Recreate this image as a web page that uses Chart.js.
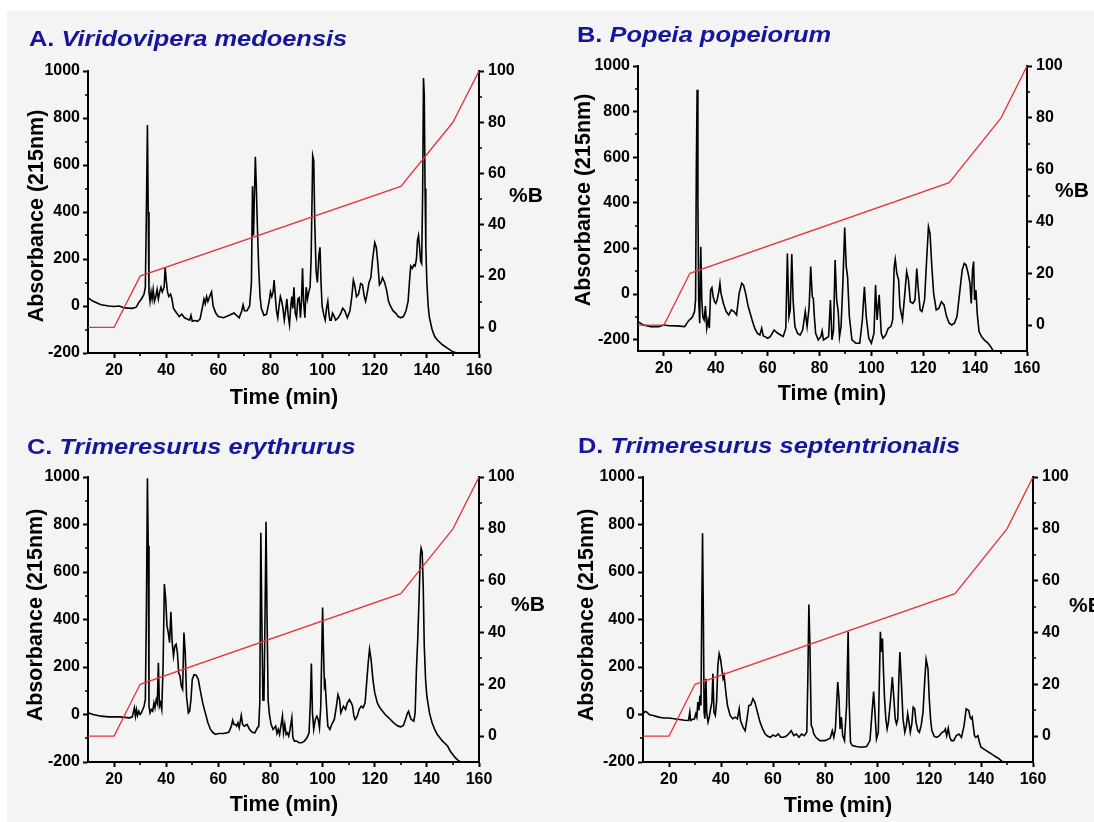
<!DOCTYPE html>
<html>
<head>
<meta charset="utf-8">
<script src="https://cdn.jsdelivr.net/npm/chart.js@4.4.1/dist/chart.umd.min.js"></script>
<style>
  html, body { margin:0; padding:0; background:#fff; }
  body { width:1094px; height:822px; overflow:hidden; position:relative; font-family:'Liberation Sans', Arial, sans-serif; }
  #bg { position:absolute; left:7px; top:11px; width:1087px; height:811px; background:#f4f4f4; }
  canvas { position:absolute; }
  .t { position:absolute; white-space:nowrap; color:#000; font-weight:bold; }
  .title { font-size:22px; line-height:22px; color:#16169a; transform-origin:0 50%; transform:translateY(-50%) scaleX(1.155); }
  .title i { font-style:italic; }
  .ytitle { font-size:21.5px; line-height:22px; transform:translate(-50%,-50%) rotate(-90deg); }
  .xtitle { font-size:21.5px; line-height:22px; transform:translate(-50%,-50%); }
  .btitle { font-size:21px; line-height:22px; transform:translate(-50%,-50%); }
</style>
</head>
<body>
<div id="bg"></div>
<canvas id="cA" width="547" height="411" style="left:0;top:0"></canvas>
<canvas id="cB" width="547" height="411" style="left:547px;top:0"></canvas>
<canvas id="cC" width="547" height="411" style="left:0;top:411px"></canvas>
<canvas id="cD" width="547" height="411" style="left:547px;top:411px"></canvas>

<div class="t title" style="left:29px;top:39px">A. <i>Viridovipera medoensis</i></div>
<div class="t title" style="left:577px;top:35px">B. <i>Popeia popeiorum</i></div>
<div class="t title" style="left:27px;top:447px">C. <i>Trimeresurus erythrurus</i></div>
<div class="t title" style="left:578px;top:446px">D. <i>Trimeresurus septentrionalis</i></div>

<div class="t ytitle" style="left:36px;top:216px">Absorbance (215nm)</div>
<div class="t ytitle" style="left:583px;top:200px">Absorbance (215nm)</div>
<div class="t ytitle" style="left:35px;top:615px">Absorbance (215nm)</div>
<div class="t ytitle" style="left:586px;top:615px">Absorbance (215nm)</div>

<div class="t xtitle" style="left:284px;top:397px">Time (min)</div>
<div class="t xtitle" style="left:832px;top:393px">Time (min)</div>
<div class="t xtitle" style="left:284px;top:804px">Time (min)</div>
<div class="t xtitle" style="left:838px;top:805px">Time (min)</div>

<div class="t btitle" style="left:526px;top:195px">%B</div>
<div class="t btitle" style="left:1072px;top:190px">%B</div>
<div class="t btitle" style="left:528px;top:604px">%B</div>
<div class="t btitle" style="left:1086px;top:605px">%B</div>

<script>
// ---- tick values ----
const xTicks = [20, 40, 60, 80, 100, 120, 140, 160];
const xMinor = [30, 50, 70, 90, 110, 130, 150];
const yTicks = [-200, 0, 200, 400, 600, 800, 1000];
const yMinor = [-100, 100, 300, 500, 700, 900];
const y2Ticks = [0, 20, 40, 60, 80, 100];
const y2Minor = [10, 30, 50, 70, 90];

// ---- gradient (%B) ----
const gradTime = [10, 20, 30, 130, 150, 160];
const gradB = [0, 0, 20, 55, 80, 100];

// ---- A. Viridovipera medoensis ----
const aTime = [10,12,15,18,20,22,24,27,28.5,29.5,30.5,31.5,32,32.4,32.8,33.1,33.4,33.8,34.2,34.6,35,35.5,36,36.5,37,37.5,38,38.5,39.2,39.6,40,40.5,41,41.7,42.2,42.8,44,45,46,47,48,49,49.5,50,51,52,53,54,54.5,55,55.5,56,57,57.4,58,59,60,62,64,66,67,68,69,69.5,70,71,72,72.7,73.1,73.5,73.9,74.2,74.6,75,75.5,76,76.5,77.5,78.5,79.5,80,80.5,81,81.4,81.8,82.3,82.8,83.3,83.8,84.3,84.8,85.3,85.8,86.3,86.8,87.3,87.8,88.2,88.6,89,89.5,90,90.5,91,91.5,91.9,92.3,92.7,93.2,93.7,94.2,94.7,95.2,95.6,96.2,96.6,97,97.5,98,98.6,99,99.4,99.8,100.5,101,101.5,102,102.4,102.8,103.3,103.8,104.3,105,106,107,107.7,108.5,109.5,110.5,111.2,111.8,112.3,113,113.8,114.6,115.3,116,116.5,117.2,117.8,118.5,119.2,120,120.6,121.2,121.8,122.4,123,123.8,124.5,125.3,126,127,128,129,130,131,132,132.8,133.3,133.8,134.4,135,135.5,136,136.4,136.8,137.2,137.6,138,138.4,138.7,139,139.3,139.6,140,140.5,141,142,143,144,146,148,150,151.5];
const aAbs  = [35,20,5,0,-2,0,-8,-10,-5,15,30,50,80,400,770,400,60,20,60,30,70,20,40,70,30,60,80,60,80,165,110,60,40,50,30,-10,-30,-45,-35,-50,-55,-60,-40,-65,-62,-65,-55,0,30,10,40,20,50,60,0,-30,-45,-50,-40,-30,-40,-50,-20,5,-20,-20,0,100,510,300,500,635,500,330,160,40,-10,-40,-35,20,60,40,60,110,50,-20,-50,0,40,20,-10,-60,-20,30,-40,-80,0,40,-10,80,-30,-50,30,35,-50,20,160,20,-50,80,30,60,80,200,640,620,350,150,100,220,250,100,0,-40,-60,-10,20,-30,-60,-60,-30,-40,-60,-50,-30,-10,-20,-50,-20,40,110,90,40,50,95,90,40,20,60,100,120,200,270,250,180,90,100,120,100,70,20,0,-20,-30,-45,-50,-45,-20,20,100,170,160,175,170,200,280,300,250,190,180,500,970,900,500,250,100,0,-50,-100,-130,-145,-165,-180,-195,-200];

// ---- B. Popeia popeiorum ----
const bTime = [10,12,15,18,20,22,25,28,29.5,30.5,31,31.8,32.2,32.5,32.8,33.1,33.4,33.8,34.2,34.6,35,35.5,36,36.5,37,37.5,38,38.5,39,39.5,40,40.5,41.2,41.6,42,43,44,45,46,47,48,49,50,50.7,51.5,52.5,54,55,56,57,57.7,58.3,59,60,61,62.5,63.5,65,66,67,67.6,68.2,68.7,69.3,69.8,70.5,71.5,72.5,73.5,74.5,75.2,76,76.6,77.2,77.6,78,78.5,79.5,80.5,81,81.5,82.5,83.5,84.2,84.8,85.4,86,86.6,87.2,87.7,88.3,89,89.7,90.3,90.8,91.5,92.5,94,95.5,96.5,97.3,98,99,100,101,101.6,102.2,103,103.8,104.5,105.5,106.5,107.5,108.2,108.8,109.2,109.8,110.5,111,112,113,113.6,114.3,115,116,116.8,117.5,118,118.8,119.5,120.5,121.3,122,122.6,123.3,124,125,126,127,128,129,130,131,132,133,134,135,135.8,136.5,137.3,138,138.5,139,139.4,139.8,140.3,140.8,141.5,142.5,143.5,145,146,147];
const bAbs  = [-121,-136,-143,-143,-136,-139,-140,-143,-117,-107,-100,-77,-26,558,896,412,-26,-128,207,-26,-100,-114,-53,-150,-114,-150,17,28,-12,-34,-41,-26,13,47,3,-44,-77,-92,-70,-77,-92,3,47,39,3,-55,-114,-150,-172,-180,-150,-184,-187,-194,-187,-158,-169,-180,-187,-150,178,-99,-70,175,-26,-143,-172,-180,-158,-77,-143,-55,120,-12,-19,-99,-172,-201,-187,-162,-201,-194,-187,-26,-201,-158,149,-26,-77,-187,-143,47,292,120,76,-99,-201,-216,-216,-114,32,-99,-194,-216,-172,39,-114,-4,-172,-194,-180,-150,-143,-114,120,152,91,61,-55,-114,17,98,61,-34,-41,-26,112,32,-70,-77,-26,149,295,266,120,3,-70,-63,-34,-48,-99,-128,-136,-128,-99,3,105,134,127,91,47,-41,105,142,-26,17,-85,-165,-187,-201,-216,-231,-250];

// ---- C. Trimeresurus erythrurus ----
const cTime = [10,12,15,18,22,26,27,27.8,28.2,28.6,29,29.5,30,30.5,31,31.5,32,32.4,32.8,33.1,33.4,33.8,34.3,34.8,35.3,35.7,36.2,36.6,37,37.4,37.8,38.3,38.8,39.3,39.8,40.3,40.8,41.3,41.8,42.3,42.8,43.3,43.8,44.3,44.8,45.3,45.8,46.3,46.8,47.3,47.8,48.5,49,49.5,50,50.7,51.5,52.3,53,54,55,56,57,58,59,60,62,64,65,65.5,66,66.5,67,67.5,68,68.8,69.3,70,71,72,73,74,75,75.5,75.9,76.3,76.7,77.1,77.5,77.9,78.3,78.7,79.1,79.6,80.2,81,82,82.5,83,83.5,84,84.6,85,85.5,86,86.5,87,87.5,88.2,88.6,89.2,90,91,92,93,94,94.8,95.3,95.7,96.1,96.6,97.2,97.8,98.3,98.8,99.3,100,100.3,100.7,101,101.5,102,102.8,103.5,104.5,105.3,105.9,106.5,107,107.5,108,108.8,109.5,110.3,111,111.5,112,112.5,113.3,114,114.8,115.5,116.3,117,117.5,118,118.6,119.3,120,121,122,123,124,125,126,127,128,129,130,131,132,132.6,133,133.5,134,135,135.5,136,136.5,137,137.5,137.8,138.2,138.6,139,139.5,140,141,142,143,144,145,146,147,148,149,150,151,152,153];
const cAbs  = [7,0,-7,-10,-10,-14,-10,28,-7,21,-4,14,0,7,21,35,63,430,995,711,35,7,21,14,49,28,63,49,218,35,49,21,204,549,486,373,345,303,432,303,246,289,296,260,176,162,120,106,345,260,77,7,14,63,148,168,166,148,106,49,7,-35,-63,-77,-84,-80,-80,-75,-49,-24,-42,-42,-49,-35,-56,-4,-42,-49,-42,-63,-75,-77,-56,-50,50,765,400,60,60,400,812,400,60,0,-40,-63,-49,-80,-63,-84,-49,-7,-77,-42,-84,-77,-91,-63,-14,-98,-112,-112,-119,-119,-112,-98,-77,49,215,7,-63,-21,-7,-21,-56,35,450,289,120,134,35,-49,-63,-42,-21,35,84,63,7,21,35,21,49,63,49,35,-7,-21,-7,21,35,28,49,148,218,275,232,148,92,49,28,14,0,-10,-21,-32,-42,-49,-52,-46,-14,7,14,-7,-21,-28,7,190,317,486,669,700,683,542,289,148,77,7,-35,-63,-84,-98,-112,-122,-134,-155,-169,-183,-193,-200];

// ---- D. Trimeresurus septentrionalis ----
const dTime = [10,10.8,11.5,12.5,14,16,18,20,22,24,26,27.5,28,28.3,29,29.8,30.3,30.7,31.1,31.5,31.9,32.3,32.6,32.9,33.2,33.5,33.8,34.2,34.5,35,35.5,36,36.5,36.9,37.3,37.8,38.3,38.8,39.3,39.8,40.3,40.8,41.2,41.6,42,42.5,43.5,44.5,45.5,46.3,47,47.5,48.5,49.3,50,50.7,51.5,52.3,53,54,55,56,57,58,59,60,61,62,63,64,65,66,67,68,69,70,71,72,73,73.4,73.8,74.2,74.7,75.2,75.7,76.5,78,80,82,82.8,83.4,84,84.5,84.9,85.4,85.8,86.3,86.8,87.5,88.3,88.9,89.3,89.8,90.5,92,94,96,97.3,98.1,98.7,99.2,99.8,100.5,101.3,101.7,102.1,102.5,102.9,103.4,103.9,104.4,105.2,105.9,106.5,107,107.5,108,108.4,108.8,109.3,110,110.7,111.3,111.8,112.3,112.8,113.4,113.9,114.5,115,115.7,116.3,117,117.7,118.4,118.9,119.6,120.1,120.6,121.1,122,123,124,125,125.7,126.3,126.8,127.4,128,128.6,129.5,130.5,131.5,132.5,133.5,134.3,135.3,135.8,136.2,136.6,137,137.5,138,138.8,139.4,140,141,142,143,144,145,146,147,148,149,149.5];
const dAbs  = [3,13,10,-1,-4,-11,-15,-15,-18,-21,-24,-25,10,-25,-21,-18,3,-11,52,17,80,38,432,763,432,10,-18,150,10,-32,-11,24,52,172,10,-4,52,207,256,235,193,151,165,122,80,38,-4,-18,-11,-18,24,-25,-54,-68,-18,38,41,66,52,10,-32,-61,-82,-92,-96,-86,-92,-82,-96,-96,-92,-82,-68,-89,-82,-96,-82,-89,-75,151,463,291,-46,-58,-82,-96,-110,-110,-100,-68,-96,-61,50,137,66,-61,-11,-89,-110,38,348,52,-117,-131,-135,-138,-135,-110,10,97,10,-103,-75,348,263,320,179,66,-18,-61,-32,60,158,66,-18,-39,-18,151,263,151,-18,-75,-46,3,-32,-75,-39,31,24,-32,-68,-75,-46,10,151,232,193,66,-18,-68,-92,-96,-89,-75,-72,-61,-89,-58,-96,-110,-110,-89,-82,-96,-46,24,17,-11,-18,-11,-46,-89,-96,-89,-117,-138,-145,-152,-159,-166,-173,-180,-187,-197,-200];

const FONT = "'Liberation Sans', Arial, sans-serif";

const minorTicksPlugin = {
  id: 'minorTicks',
  afterDraw(chart) {
    const ctx = chart.ctx;
    const { x, y, y2 } = chart.scales;
    ctx.save();
    ctx.strokeStyle = '#000';
    ctx.lineWidth = 1.6;
    ctx.beginPath();
    xMinor.forEach(v => { const p = Math.round(x.getPixelForValue(v)); ctx.moveTo(p, x.top); ctx.lineTo(p, x.top + 3); });
    yMinor.forEach(v => { if (v < y.min || v > y.max) return; const p = Math.round(y.getPixelForValue(v)); ctx.moveTo(y.right, p); ctx.lineTo(y.right - 3, p); });
    y2Minor.forEach(v => { const p = Math.round(y2.getPixelForValue(v)); ctx.moveTo(y2.left, p); ctx.lineTo(y2.left + 3, p); });
    ctx.stroke();
    ctx.restore();
  }
};

function pts(t, v) { return t.map((tt, i) => ({ x: tt, y: v[i] })); }

function axisCommon(tickVals) {
  return {
    afterBuildTicks: s => { s.ticks = tickVals.map(v => ({ value: v })); },
    ticks: { autoSkip: false, maxRotation: 0, color: '#000', font: { family: FONT, size: 16, weight: 'bold' }, callback: v => String(v) },
    grid: { display: true, drawOnChartArea: false, drawTicks: true, tickLength: 5, tickColor: '#000', tickWidth: 2 },
    border: { display: true, color: '#000', width: 2 }
  };
}

function makeChart(id, time, abs, yMin, area) {
  const [L, R, T, B] = area;
  const W = 547, H = 411, LW = 70, RW = 60, XH = 40;
  const xs = axisCommon(xTicks), ys = axisCommon(yTicks), y2s = axisCommon(y2Ticks);
  xs.ticks.padding = 3; ys.ticks.padding = 3; y2s.ticks.padding = 4;
  return new Chart(document.getElementById(id), {
    type: 'line',
    data: {
      datasets: [
        { data: pts(gradTime, gradB), yAxisID: 'y2', borderColor: '#e8333b', borderWidth: 1.3, pointRadius: 0, tension: 0, fill: false },
        { data: pts(time, abs), yAxisID: 'y', borderColor: '#000', borderWidth: 1.6, pointRadius: 0, tension: 0, fill: false }
      ]
    },
    options: {
      responsive: false, animation: false, events: [],
      layout: { padding: { left: L - LW, right: W - R - RW, top: T, bottom: H - B - XH } },
      plugins: { legend: { display: false }, tooltip: { enabled: false }, title: { display: false } },
      scales: {
        x: Object.assign({ type: 'linear', position: 'bottom', min: 10, max: 160, afterFit: s => { s.height = XH; } }, xs),
        y: Object.assign({ type: 'linear', position: 'left', min: yMin, max: 1000, afterFit: s => { s.width = LW; } }, ys),
        y2: Object.assign({ type: 'linear', position: 'right', min: -10, max: 100, afterFit: s => { s.width = RW; } }, y2s)
      }
    },
    plugins: [minorTicksPlugin]
  });
}

makeChart('cA', aTime, aAbs, -200, [88, 479, 71, 353]);
makeChart('cB', bTime, bAbs, -250, [91, 480, 66, 351]);
makeChart('cC', cTime, cAbs, -200, [88, 479, 66, 351]);
makeChart('cD', dTime, dAbs, -200, [96, 486, 66, 351]);
</script>
</body>
</html>
